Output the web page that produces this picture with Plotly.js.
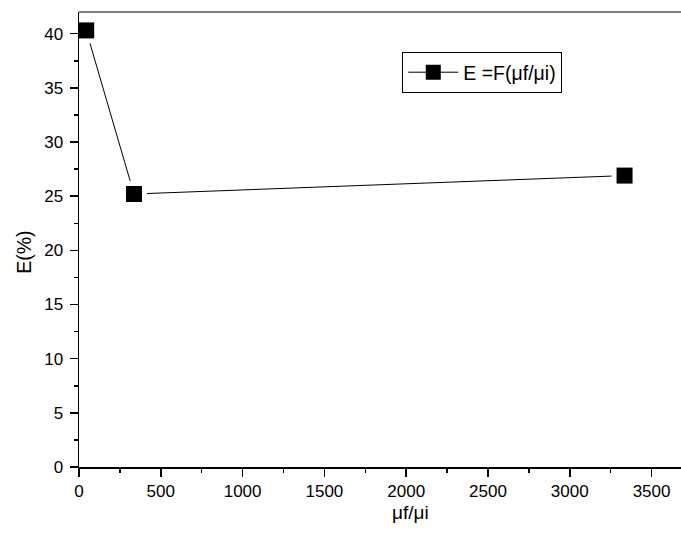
<!DOCTYPE html>
<html>
<head>
<meta charset="utf-8">
<script src="https://cdn.plot.ly/plotly-3.0.1.min.js"></script>
<style>html,body{margin:0;padding:0;background:#fff;}#chart{width:681px;height:546px;}</style>
</head>
<body>
<div id="chart"></div>
<script>
// Data
const ratio = [44, 336, 3335];          // μf/μi
const efficiency = [40.3, 25.2, 26.9];  // E(%)
const seriesName = 'E =F(μf/μi)';
const xTicks = [0, 500, 1000, 1500, 2000, 2500, 3000, 3500];
const yTicks = [0, 5, 10, 15, 20, 25, 30, 35, 40];
const xTitle = 'μf/μi';
const yTitle = 'E(%)';

const FONT = 'Arial, "Liberation Sans", sans-serif';

const traces = [
  { // connecting line
    x: ratio, y: efficiency, mode: 'lines', type: 'scatter',
    line: {color: '#000', width: 1}, showlegend: false, hoverinfo: 'skip'
  },
  { // white halo to give gaps around markers
    x: ratio, y: efficiency, mode: 'markers', type: 'scatter',
    marker: {symbol: 'square', size: 26, color: '#fff', line: {width: 0}},
    showlegend: false, hoverinfo: 'skip'
  },
  { // the markers themselves
    x: ratio, y: efficiency, mode: 'markers', type: 'scatter',
    marker: {symbol: 'square', size: 16, color: '#000', line: {width: 0}},
    showlegend: false
  },
  { // legend entry only
    x: [null], y: [null], mode: 'lines+markers', type: 'scatter', name: seriesName,
    line: {color: '#000', width: 1},
    marker: {symbol: 'square', size: 15, color: '#000', line: {width: 0}}
  }
];

const axisCommon = {
  showgrid: false, zeroline: false, showline: true, linecolor: '#000', linewidth: 1.5,
  ticks: 'outside', ticklen: 8, tickwidth: 1.5, tickcolor: '#000',
  tickfont: {family: FONT, size: 17, color: '#000'},
  tickmode: 'array'
};

const layout = {
  width: 681, height: 546,
  margin: {l: 79, r: 0, t: 12, b: 79, pad: 0},
  paper_bgcolor: '#fff', plot_bgcolor: '#fff',
  font: {family: FONT, color: '#000'},
  xaxis: Object.assign({}, axisCommon, {
    range: [0, 3680], tickvals: xTicks, ticktext: xTicks.map(String),
    minor: {dtick: 250, tick0: 0, ticks: 'outside', ticklen: 4, tickwidth: 1.5, tickcolor: '#000'}
  }),
  yaxis: Object.assign({}, axisCommon, {
    range: [0, 42], tickvals: yTicks, ticktext: yTicks.map(String),
    ticklabelstandoff: 3,
    minor: {dtick: 2.5, tick0: 0, ticks: 'outside', ticklen: 4, tickwidth: 1.5, tickcolor: '#000'}
  }),
  showlegend: true,
  legend: {
    x: 0.537, y: 0.912, xanchor: 'left', yanchor: 'top',
    bordercolor: '#000', borderwidth: 1, bgcolor: '#fff',
    font: {family: FONT, size: 19.5, color: '#000'}, itemwidth: 50
  },
  shapes: [
    {type: 'line', xref: 'paper', yref: 'paper', x0: 0, x1: 1, y0: 1, y1: 1,
     line: {color: '#555', width: 1.5}}
  ],
  annotations: [
    {text: yTitle, xref: 'paper', yref: 'paper', x: -0.0917, y: 0.4725,
     textangle: -90, showarrow: false, xanchor: 'center', yanchor: 'middle',
     font: {family: FONT, size: 19.5, color: '#000'}},
    {text: xTitle, xref: 'paper', yref: 'paper', x: 0.550, y: -0.099,
     showarrow: false, xanchor: 'center', yanchor: 'middle',
     font: {family: FONT, size: 19, color: '#000'}}
  ]
};

Plotly.newPlot('chart', traces, layout, {displayModeBar: false, staticPlot: true});
</script>
</body>
</html>
